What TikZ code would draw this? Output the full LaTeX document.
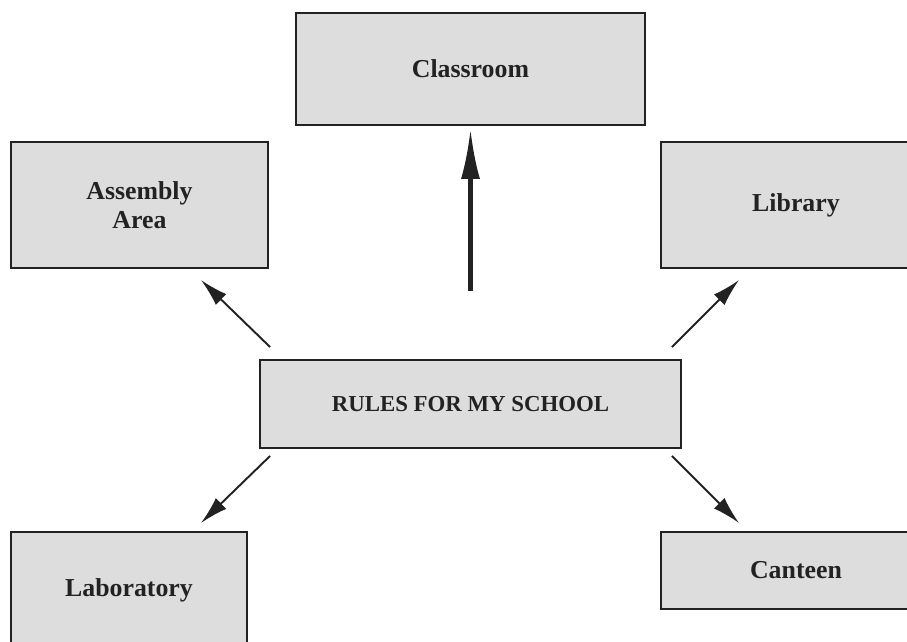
\documentclass[tikz,border=0pt]{standalone}
\usepackage{fontspec}
\setmainfont{Liberation Serif}
\usepackage{tikz}
\usetikzlibrary{arrows.meta,positioning,calc}
\definecolor{boxgray}{RGB}{221,221,221}
\definecolor{inkgray}{RGB}{34,34,34}

\begin{document}
\begin{tikzpicture}[
		x=0.02cm, y=-0.02cm,
		basic/.style  = {draw=inkgray, line width=1.1pt, fill=boxgray, rectangle, text=inkgray, align=center, inner sep=0pt},
		place/.style  = {basic, font=\bfseries\fontsize{14.7}{16.5}\selectfont},
		root/.style   = {basic, font=\bfseries\fontsize{13}{15}\selectfont},
		link/.style   = {draw=inkgray, line width=1.1pt, -{Latex[length=0.56cm,width=0.3cm]}},
		mainlink/.style = {draw=inkgray, line width=2.3pt, -{Latex[length=1cm,width=0.38cm]}}]
		
		\useasboundingbox (0,0) rectangle (907,642);
		\clip (0,0) rectangle (907,642);
		
		% Central node
		\node[root, minimum width=8.42cm, minimum height=1.76cm] (rules) at (470.5,404) {RULES FOR MY SCHOOL};
		
		% Places around it
		\node[place, minimum width=6.98cm, minimum height=2.24cm] (classroom) at (470.5,69) {Classroom};
		\node[place, minimum width=5.14cm, minimum height=2.52cm] (assembly) at (139.5,205) {Assembly\\Area};
		\node[place, minimum width=5.4cm, minimum height=2.52cm] (library) at (796,205) {Library};
		\node[place, minimum width=4.72cm, minimum height=2.32cm] (laboratory) at (129,590) {Laboratory};
		\node[place, minimum width=5.4cm, minimum height=1.54cm] (canteen) at (796,570.5) {Canteen};
		
		% Arrows from the central node to every place
		\draw[mainlink, shorten <=68*0.02cm, shorten >=3*0.02cm] (rules.north) -- (classroom.south);
		
		\draw[link] ($(rules.north west)+(11,-12)$) -- ($(assembly.south east)+(-68,11)$);
		\draw[link] ($(rules.north east)+(-10,-12)$) -- ($(library.south west)+(79,11)$);
		\draw[link] ($(rules.south west)+(11,7)$) -- ($(laboratory.north east)+(-47,-8)$);
		\draw[link] ($(rules.south east)+(-10,7)$) -- ($(canteen.north west)+(79,-8)$);
		
	\end{tikzpicture}
\end{document}
